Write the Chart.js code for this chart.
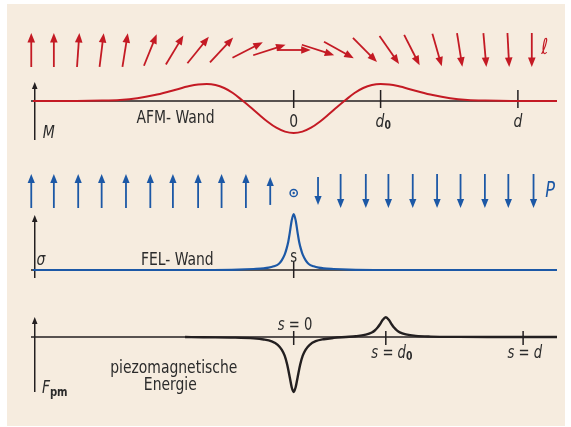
<!DOCTYPE html>
<html>
<head>
<meta charset="utf-8">
<script src="https://cdn.jsdelivr.net/npm/chart.js@4"></script>
<style>
  html, body { margin: 0; padding: 0; background: #fff; }
</style>
</head>
<body>
<canvas id="c" width="571" height="427"></canvas>
<script>
// AFM-Wand: Magnetisierung M entlang der Wand
const afmX = [-3, -2.5, -2.2, -2.0, -1.8, -1.6, -1.4, -1.2, -1.1, -1.0, -0.9, -0.8, -0.7, -0.6, -0.5, -0.4, -0.3, -0.2, -0.1, 0,
              0.1, 0.2, 0.3, 0.4, 0.5, 0.6, 0.7, 0.8, 0.9, 1.0, 1.1, 1.2, 1.4, 1.6, 1.8, 2.0, 2.2, 2.5, 3.03];
const afmM = [0, 0, 0.4, 1.1, 2.8, 5.9, 10.3, 14.9, 16.5, 17, 16, 13, 8, 1.2, -6, -13.5, -20.7, -26.7, -30.6, -32,
              -30.6, -26.7, -20.7, -13.5, -6, 1.2, 8, 13, 16, 17, 16.5, 14.9, 10.3, 5.9, 2.8, 1.1, 0.4, 0, 0];

// Spinrichtung l (Winkel gegen die Senkrechte, Grad)
const spinX = [-3.02, -2.76, -2.48, -2.21, -1.94, -1.65, -1.37, -1.10, -0.83, -0.53, -0.28, 0,
               0.28, 0.52, 0.82, 1.10, 1.36, 1.65, 1.91, 2.20, 2.47, 2.74];
const spinWinkel = [0, 0, 4, 7, 9, 22, 31, 39, 43, 63, 72, 90, 108, 119, 135, 145, 153, 164, 171, 175, 177, 180];

// FEL-Wand: Ladungsdichte sigma
const felX = [-3, -0.92, -0.633, -0.46, -0.345, -0.288, -0.23, -0.173, -0.138, -0.104, -0.081, -0.063, -0.046, -0.023, 0,
              0.023, 0.046, 0.063, 0.081, 0.104, 0.138, 0.173, 0.23, 0.288, 0.345, 0.46, 0.633, 0.92, 3.03];
const felS = [0, 0, 0.4, 1.0, 1.6, 2.3, 3.7, 6.0, 9.7, 15.3, 21.6, 28, 36.6, 49.5, 56,
              49.5, 36.6, 28, 21.6, 15.3, 9.7, 6.0, 3.7, 2.3, 1.6, 1.0, 0.4, 0, 0];

// Polarisation P: Richtung (+1 hoch, -1 runter, 0 aus der Ebene) und Betrag
const polX = [-3.02, -2.76, -2.48, -2.21, -1.93, -1.65, -1.39, -1.10, -0.83, -0.55, -0.27, 0,
              0.28, 0.54, 0.83, 1.09, 1.37, 1.65, 1.92, 2.20, 2.47, 2.76];
const polRichtung = [1, 1, 1, 1, 1, 1, 1, 1, 1, 1, 1, 0, -1, -1, -1, -1, -1, -1, -1, -1, -1, -1];
const polBetrag = [1, 1, 1, 1, 1, 1, 1, 1, 1, 1, 0.82, 0, 0.82, 1, 1, 1, 1, 1, 1, 1, 1, 1];

// piezomagnetische Energie F_pm
const fpmX = [-1.25, -1.04, -0.69, -0.46, -0.345, -0.253, -0.184, -0.138, -0.104, -0.075, -0.046, -0.023, 0,
              0.023, 0.046, 0.075, 0.104, 0.138, 0.184, 0.253, 0.345, 0.46, 0.6, 0.715, 0.83, 0.899, 0.933, 0.968, 0.991,
              1.025, 1.06, 1.095, 1.129, 1.152, 1.187, 1.221, 1.29, 1.405, 1.578, 1.9, 2.3, 3.03];
const fpmF = [0, -0.3, -0.6, -1.4, -2.5, -4.4, -7.8, -12.6, -18.7, -27.5, -39.9, -50.2, -55,
              -50, -40, -27.5, -18.7, -12.6, -7.8, -4.2, -2.2, -0.9, 0, 0.75, 2.35, 4.5, 6.5, 9.7, 12.5,
              17.2, 19.7, 17.2, 12.5, 9.7, 6.6, 4.6, 2.6, 1.1, 0.4, 0.1, 0, 0];

// Markierungen auf den Achsen
const ticksA = [0, 1, 2.58];
const ticksB = [0];
const ticksC = [0, 1.06, 2.64];

const ROT = '#c41a24';
const BLAU = '#1c58a6';
const SCHWARZ = '#231f20';
const TEXT = '#2b2b2b';
const BEIGE = '#f6ecdf';
const SCHRIFT = '"Liberation Sans Narrow", "DejaVu Sans Condensed", sans-serif';
const STAUCHUNG = 0.86; // Schrift schmaler machen

function paare(xs, ys) {
    return xs.map((x, i) => ({ x: x, y: ys[i] }));
}

function schrift(t) {
    return (t.k ? 'italic ' : '') + (t.f ? 'bold ' : '') + (t.g || 17) + 'px ' + SCHRIFT;
}

// mehrere Textstuecke (kursiv, Index ...) zentriert nebeneinander
function zeile(ctx, teile, cx, y, farbe) {
    let breite = 0;
    teile.forEach(t => { ctx.font = schrift(t); t.w = ctx.measureText(t.t).width * STAUCHUNG; breite += t.w; });
    let x = cx - breite / 2;
    ctx.fillStyle = farbe || TEXT;
    ctx.textAlign = 'left';
    ctx.textBaseline = 'alphabetic';
    teile.forEach(t => {
        ctx.save();
        ctx.font = schrift(t);
        ctx.translate(x, y + (t.dy || 0));
        ctx.scale(STAUCHUNG, 1);
        ctx.fillText(t.t, 0, 0);
        ctx.restore();
        x += t.w;
    });
}

function pfeil(ctx, x0, y0, x1, y1, farbe, breite, kopf) {
    const w = Math.atan2(y1 - y0, x1 - x0);
    const c = Math.cos(w), s = Math.sin(w);
    ctx.strokeStyle = farbe;
    ctx.fillStyle = farbe;
    ctx.lineWidth = breite;
    ctx.beginPath();
    ctx.moveTo(x0, y0);
    ctx.lineTo(x1 - c * kopf * 0.7, y1 - s * kopf * 0.7);
    ctx.stroke();
    const h = kopf * 0.4;
    ctx.beginPath();
    ctx.moveTo(x1, y1);
    ctx.lineTo(x1 - kopf * c + h * s, y1 - kopf * s - h * c);
    ctx.lineTo(x1 - kopf * c - h * s, y1 - kopf * s + h * c);
    ctx.closePath();
    ctx.fill();
}

const zeichnung = {
    id: 'zeichnung',
    beforeDraw(chart) {
        const ctx = chart.ctx;
        ctx.save();
        ctx.fillStyle = BEIGE;
        ctx.fillRect(7, 4, 558, 422);
        ctx.restore();
    },
    beforeDatasetsDraw(chart) {
        const { ctx, chartArea, scales } = chart;
        const px = v => scales.x.getPixelForValue(v);
        ctx.save();
        // Achsen mit Pfeil
        [['yA', -39, 19, ticksA, -7, 11], ['yB', -8, 55, ticksB, -8, 8], ['yC', -55, 20, ticksC, -8, 6]]
            .forEach(([id, unten, oben, ticks, tu, to]) => {
                const y = scales[id];
                const y0 = y.getPixelForValue(0);
                ctx.strokeStyle = SCHWARZ;
                ctx.lineWidth = 1.6;
                ctx.beginPath();
                ctx.moveTo(chartArea.left - 2, y0);
                ctx.lineTo(chartArea.right, y0);
                ctx.stroke();
                pfeil(ctx, px(-2.98), y.getPixelForValue(unten), px(-2.98), y.getPixelForValue(oben), SCHWARZ, 1.5, 7);
                ctx.lineWidth = 1.5;
                ticks.forEach(t => {
                    ctx.beginPath();
                    ctx.moveTo(px(t), y.getPixelForValue(tu));
                    ctx.lineTo(px(t), y.getPixelForValue(to));
                    ctx.stroke();
                });
            });

        const yA = v => scales.yA.getPixelForValue(v);
        const yB = v => scales.yB.getPixelForValue(v);
        const yC = v => scales.yC.getPixelForValue(v);

        // Beschriftung oben
        zeile(ctx, [{ t: 'AFM- Wand', g: 18 }], px(-1.36), yA(-22));
        zeile(ctx, [{ t: '0', g: 18 }], px(0), yA(-26));
        zeile(ctx, [{ t: 'd', k: true, g: 18 }, { t: '0', f: true, g: 12, dy: 2 }], px(1.03), yA(-26));
        zeile(ctx, [{ t: 'd', k: true, g: 18 }], px(2.58), yA(-26));
        zeile(ctx, [{ t: 'M', k: true, g: 18 }], px(-2.82), yA(-37));
        zeile(ctx, [{ t: 'ℓ', k: true, g: 22 }], px(2.89), yA(47), ROT);

        // Beschriftung Mitte
        zeile(ctx, [{ t: 'FEL- Wand', g: 18 }], px(-1.34), yB(5));
        zeile(ctx, [{ t: 'σ', k: true, g: 18 }], px(-2.91), yB(5));
        zeile(ctx, [{ t: 's', g: 17 }], px(0), yB(8));
        zeile(ctx, [{ t: 'P', k: true, g: 21 }], px(2.95), yB(73), BLAU);

        // Beschriftung unten
        zeile(ctx, [{ t: 's', k: true }, { t: ' = 0' }], px(0.015), yC(7));
        zeile(ctx, [{ t: 's', k: true }, { t: ' = ' }, { t: 'd', k: true }, { t: '0', f: true, g: 12, dy: 2 }], px(1.13), yC(-21));
        zeile(ctx, [{ t: 's', k: true }, { t: ' = ' }, { t: 'd', k: true }], px(2.66), yC(-21));
        zeile(ctx, [{ t: 'piezomagnetische', g: 18 }], px(-1.38), yC(-36));
        zeile(ctx, [{ t: 'Energie', g: 18 }], px(-1.42), yC(-53));
        zeile(ctx, [{ t: 'F', k: true, g: 18 }, { t: 'pm', f: true, g: 13, dy: 3 }], px(-2.75), yC(-56));
        ctx.restore();
    },
    afterDatasetsDraw(chart) {
        const { ctx, scales } = chart;
        const px = v => scales.x.getPixelForValue(v);
        ctx.save();
        // Spins der AFM-Wand
        spinX.forEach((xv, i) => {
            const w = spinWinkel[i] * Math.PI / 180;
            const cx = px(xv), cy = scales.yA.getPixelForValue(51);
            const dx = Math.sin(w) * 17, dy = -Math.cos(w) * 17;
            pfeil(ctx, cx - dx, cy - dy, cx + dx, cy + dy, ROT, 1.8, 9.5);
        });
        // Polarisation der FEL-Wand
        polX.forEach((xv, i) => {
            const cx = px(xv);
            if (polRichtung[i] === 0) {
                const cy = scales.yB.getPixelForValue(77);
                ctx.strokeStyle = BLAU;
                ctx.fillStyle = BLAU;
                ctx.lineWidth = 1.5;
                ctx.beginPath();
                ctx.arc(cx, cy, 3.6, 0, Math.PI * 2);
                ctx.stroke();
                ctx.beginPath();
                ctx.arc(cx, cy, 1.2, 0, Math.PI * 2);
                ctx.fill();
                return;
            }
            const cy = scales.yB.getPixelForValue(79);
            const l = 17 * polBetrag[i] * polRichtung[i];
            pfeil(ctx, cx, cy + l, cx, cy - l, BLAU, 1.8, 9);
        });
        ctx.restore();
    }
};

new Chart(document.getElementById('c'), {
    type: 'line',
    data: {
        datasets: [
            { label: 'M', data: paare(afmX, afmM), yAxisID: 'yA', borderColor: ROT, borderWidth: 2 },
            { label: 'σ', data: paare(felX, felS), yAxisID: 'yB', borderColor: BLAU, borderWidth: 2.2 },
            { label: 'Fpm', data: paare(fpmX, fpmF), yAxisID: 'yC', borderColor: SCHWARZ, borderWidth: 2.4 }
        ]
    },
    options: {
        responsive: false,
        animation: false,
        events: [],
        layout: { padding: { left: 33, right: 14, top: 20, bottom: 7 } },
        elements: {
            point: { radius: 0 },
            line: { cubicInterpolationMode: 'monotone', fill: false }
        },
        plugins: { legend: { display: false }, tooltip: { enabled: false } },
        scales: {
            x: { type: 'linear', min: -3, max: 3.03, display: false },
            yA: { type: 'linear', position: 'right', stack: 'panels', stackWeight: 125, min: -44, max: 81, display: false },
            yB: { type: 'linear', position: 'right', stack: 'panels', stackWeight: 140, min: -15, max: 125, display: false },
            yC: { type: 'linear', position: 'right', stack: 'panels', stackWeight: 135, min: -83, max: 52, display: false }
        }
    },
    plugins: [zeichnung]
});
</script>
</body>
</html>
